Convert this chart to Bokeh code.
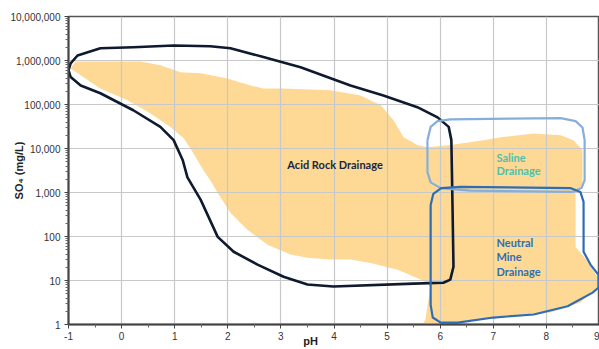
from bokeh.plotting import figure
from bokeh.models import FixedTicker, LinearAxis
from bokeh.core.properties import value
from bokeh.embed import file_html
from bokeh.resources import INLINE

# ---- axis ticks ----
x_ticks = [-1, 0, 1, 2, 3, 4, 5, 6, 7, 8, 9]
x_tick_labels = ["-1", "0", "1", "2", "3", "4", "5", "6", "7", "8", "9"]
y_ticks = [1, 10, 100, 1000, 10000, 100000, 1000000, 10000000]
y_tick_labels = ["1", "10", "100", "1,000", "10,000", "100,000", "1,000,000", "10,000,000"]

# ---- orange field of observed data (pH, SO4 mg/L) ----
field_ph = [-0.96, -0.87, 0.36, 0.73, 1.11, 1.49, 1.99, 2.43, 2.67, 3.05, 3.93, 4.50,
            4.88, 5.12, 5.31, 5.57, 5.76, 6.19, 6.82, 7.14, 7.76, 8.27, 8.51, 8.68,
            8.68, 8.55, 8.55, 8.75, 8.96, 8.96, 8.64, 8.08, 7.32, 6.51, 6.25, 6.00,
            5.67, 5.72, 5.78, 5.82, 5.63, 5.20, 4.69, 4.31, 3.93, 3.50, 3.18, 2.75,
            2.37, 2.05, 1.81, 1.67, 1.54, 1.35, 1.17, 0.92, 0.54, 0.11, -0.40, -0.77]
field_so4 = [6.6e5, 9.5e5, 9.5e5, 7.8e5, 5.4e5, 5.1e5, 3.9e5, 2.7e5, 2.3e5, 2.3e5, 2.1e5, 1.6e5,
             9.6e4, 4.4e4, 1.8e4, 1.2e4, 1.07e4, 1.2e4, 1.55e4, 1.8e4, 2.2e4, 2.0e4, 1.55e4, 9.2e3,
             1.5e3, 1.0e3, 58, 30, 12, 7.3, 3.15, 1.87, 1.52, 1.17, 1.05, 1.0,
             1.0, 1.3, 3.7, 7.3, 10.5, 17.6, 25, 30, 30, 33, 39, 65,
             142, 345, 980, 1.9e3, 3.2e3, 7.9e3, 1.7e4, 3.1e4, 6.3e4, 1.25e5, 2.3e5, 4.6e5]

# ---- Acid Rock Drainage envelope ----
ard_ph = [-1.00, -0.96, -0.83, -0.40, 0.22, 0.98, 1.67, 2.05, 2.67, 3.37, 4.31, 4.93,
          5.57, 5.95, 6.16, 6.21, 6.23, 6.25, 6.19, 6.06, 5.50, 3.99, 3.50, 3.05,
          2.56, 2.11, 1.81, 1.49, 1.24, 1.15, 0.98, 0.73, 0.22, -0.40, -0.77, -0.96, -1.00]
ard_so4 = [6.0e5, 8.6e5, 1.3e6, 1.9e6, 2.0e6, 2.2e6, 2.1e6, 1.9e6, 1.2e6, 7.0e5, 2.7e5, 1.6e5,
           8.7e4, 5.1e4, 3.1e4, 1.55e4, 680, 20.6, 10.5, 8.9, 8.5, 7.3, 8.1, 12.2,
           23, 45, 98, 680, 2.2e3, 5.5e3, 1.55e4, 3.1e4, 7.4e4, 1.8e5, 2.7e5, 4.2e5, 6.0e5]

# ---- Saline Drainage envelope ----
sal_ph = [5.76, 5.82, 5.95, 6.19, 8.27, 8.55, 8.68, 8.72, 8.72, 8.66, 8.49, 6.57, 6.01, 5.82, 5.76, 5.76]
sal_so4 = [1.55e4, 3.1e4, 4.2e4, 4.6e4, 4.9e4, 4.2e4, 3.0e4, 1.55e4, 1.9e3, 1.26e3, 1.03e3, 1.1e3,
           1.26e3, 1.7e3, 2.9e3, 1.55e4]

# ---- Neutral Mine Drainage envelope ----
nmd_ph = [5.82, 5.87, 6.02, 6.38, 8.45, 8.64, 8.70, 8.70, 8.83, 8.98, 8.98, 8.87, 8.40, 7.76,
          7.00, 6.33, 6.01, 5.86, 5.82, 5.82]
nmd_so4 = [520, 930, 1.26e3, 1.34e3, 1.26e3, 1.03e3, 610, 45, 23, 13.5, 6.9, 5.3, 2.6, 1.69,
           1.44, 1.1, 1.1, 1.44, 2.8, 520]

# ---- region labels ----
lab_text = ["Acid Rock Drainage", "Saline", "Drainage", "Neutral", "Mine", "Drainage"]
lab_ph = [4.02, 7.06, 7.06, 7.06, 7.06, 7.06]
lab_so4 = [4400, 6400, 3100, 72, 35, 16]
lab_color = ["#1B2540", "#4DBFAF", "#4DBFAF", "#2F6DB5", "#2F6DB5", "#2F6DB5"]
lab_align = ["center", "left", "left", "left", "left", "left"]

# x axis title text and where it sits along the pH axis
x_title = "pH"
x_title_at = 3.56

p = figure(width=599, height=349, x_range=(-1, 9), y_range=(1, 1e7), y_axis_type="log",
           output_backend="svg", toolbar_location=None,
           min_border_left=68, min_border_right=0, min_border_top=16, min_border_bottom=24)
p.background_fill_color = "white"
p.border_fill_color = "white"
p.outline_line_color = "#555555"
p.outline_line_width = 1.5

# grid
p.xgrid.grid_line_color = "#c8c8c8"
p.ygrid.grid_line_color = "#c8c8c8"
p.xgrid.grid_line_width = 1.2
p.ygrid.grid_line_width = 1.2

# axes
p.xaxis.ticker = FixedTicker(ticks=x_ticks, minor_ticks=[t + 0.5 for t in x_ticks[:-1]])
p.xaxis.major_label_overrides = {t: l for t, l in zip(x_ticks, x_tick_labels)}
minor_y = [m * t for t in y_ticks[:-1] for m in range(2, 10)]
p.yaxis.ticker = FixedTicker(ticks=y_ticks, minor_ticks=minor_y)
p.yaxis.major_label_overrides = {t: l for t, l in zip(y_ticks, y_tick_labels)}
for ax in (p.xaxis[0], p.yaxis[0]):
    ax.axis_line_color = "#444444"
    ax.axis_line_width = 2
    ax.major_tick_line_color = "#444444"
    ax.minor_tick_line_color = "#666666"
    ax.major_tick_out = 4
    ax.major_tick_in = 0
    ax.minor_tick_out = 3
    ax.minor_tick_in = 0
    ax.major_label_text_font = "Liberation Sans"
    ax.major_label_text_font_size = "10px"
    ax.major_label_text_color = "#333333"
    ax.major_label_standoff = 4
p.xaxis.major_label_standoff = 3

# y axis title, pulled in toward the tick labels
p.yaxis.axis_label = "SO\u2084 (mg/L)"
p.yaxis.axis_label_standoff = -18
p.yaxis.axis_label_text_font = "Liberation Sans"
p.yaxis.axis_label_text_font_style = "bold"
p.yaxis.axis_label_text_font_size = "11px"
p.yaxis.axis_label_text_color = "#222222"

# x axis title drawn as the single label of a bare second axis below
title_axis = LinearAxis(ticker=FixedTicker(ticks=[x_title_at], minor_ticks=[]),
                        major_label_overrides={x_title_at: x_title},
                        axis_line_color=None, major_tick_line_color=None,
                        minor_tick_line_color=None, major_tick_out=0, minor_tick_out=0,
                        major_label_standoff=-8,
                        major_label_text_font="Liberation Sans",
                        major_label_text_font_style="bold",
                        major_label_text_font_size="11px",
                        major_label_text_color="#222222")
p.add_layout(title_axis, "below")

# orange field (below grid)
p.patch(field_ph, field_so4, fill_color="#FDD995", line_color=None, level="image")

# envelopes
p.line(ard_ph, ard_so4, line_color="#0F1A2E", line_width=2.6, line_join="round")
p.line(sal_ph, sal_so4, line_color="#86AEDB", line_width=2.2, line_join="round")
p.line(nmd_ph, nmd_so4, line_color="#2E6CB5", line_width=2.2, line_join="round")

# labels
p.text(x=lab_ph, y=lab_so4, text=lab_text, text_color=lab_color, text_align=lab_align,
       text_baseline="middle", text_font=value("Lato"), text_font_style="bold",
       text_font_size="11px")

open("out.html", "w").write(file_html(p, INLINE))
